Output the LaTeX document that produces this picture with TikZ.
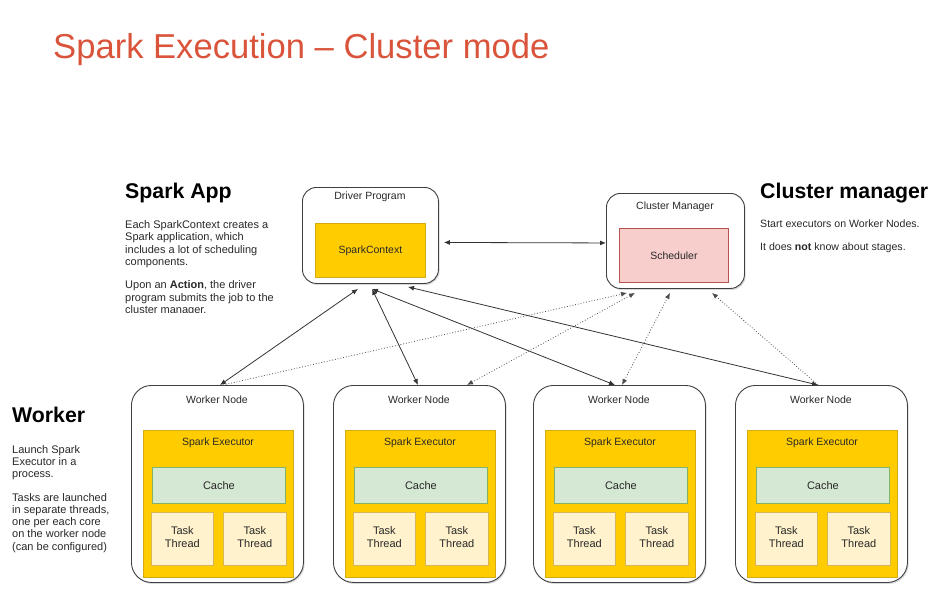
\documentclass[tikz,border=0pt]{standalone}
\usepackage{fontspec}
\setmainfont{Liberation Sans}
\usepackage{xcolor}
\usepackage{tikz}
\usetikzlibrary{arrows.meta,positioning,shadows,calc}
\definecolor{titlered}{RGB}{217,84,58}
\definecolor{darktext}{RGB}{40,40,40}
\definecolor{goldfill}{RGB}{255,204,0}
\definecolor{golddraw}{RGB}{214,170,20}
\definecolor{cachefill}{RGB}{213,232,212}
\definecolor{cachedraw}{RGB}{130,179,102}
\definecolor{taskfill}{RGB}{255,242,204}
\definecolor{taskdraw}{RGB}{214,182,86}
\definecolor{schedfill}{RGB}{248,206,204}
\definecolor{scheddraw}{RGB}{184,84,80}

\tikzset{
  outer_box/.style={draw=black!75, line width=0.9pt, fill=white, rounded corners=14pt,
    anchor=north west, inner sep=0pt,
    drop shadow={shadow xshift=1.2pt, shadow yshift=-1.5pt, opacity=0.3}},
  inner_box/.style={line width=0.8pt, anchor=north west, inner sep=0pt},
  box_text/.style={text=darktext, font=\fontsize{10.5}{12.5}\selectfont, align=center, inner sep=0pt},
  side_text/.style={text=darktext, font=\fontsize{11}{12.6}\selectfont, align=left, anchor=north west, inner sep=0pt},
  head_text/.style={text=black, font=\fontsize{21.3}{24}\selectfont\bfseries, anchor=base west, inner sep=0pt},
  link/.style={<->, >={Latex[length=6pt,width=5pt]}, draw=black!80, line width=0.8pt},
  dot_link/.style={>={Latex[length=6pt,width=5pt]}, draw=black!70, line width=0.8pt, dotted}
}

\begin{document}
\begin{tikzpicture}[x=1pt, y=-1pt]
  \useasboundingbox (0,0) rectangle (943,592);

  \node (title_text) [anchor=base west, inner sep=0pt, text=titlered, font=\fontsize{34.6}{40}\selectfont]
    at (53,58) {Spark Execution -- Cluster mode};

  % side notes
  \node (app_head) [head_text] at (125,198) {Spark App};
  \begin{scope}
    \clip (100,210) rectangle (300,312);
    \node (app_text) [side_text] at (125,220) {Each SparkContext creates a\\ Spark application, which\\
      includes a lot of scheduling\\ components.\\[10pt] Upon an \textbf{Action}, the driver\\
      program submits the job to the\\ cluster manager.};
  \end{scope}
  \node (cm_head) [head_text] at (760,198) {Cluster manager};
  \node (cm_text) [side_text, font=\fontsize{10.6}{12}\selectfont] at (760,220)
    {Start executors on Worker Nodes.\\[11pt] It does \textbf{not} know about stages.};
  \node (worker_head) [head_text] at (12,422) {Worker};
  \node (worker_text) [side_text, font=\fontsize{11}{12.2}\selectfont] at (12,445) {Launch Spark\\ Executor in a\\ process.\\[11.5pt]
    Tasks are launched\\ in separate threads,\\ one per each core\\ on the worker node\\ (can be configured)};

  % driver and cluster manager
  \node (driver_box) [outer_box, minimum width=136pt, minimum height=96pt] at (302,187) {};
  \node (driver_label) [box_text] at (370,197) {Driver Program};
  \node (spark_ctx) [inner_box, fill=goldfill, draw=golddraw, minimum width=110pt, minimum height=54pt] at (315,223) {};
  \node [box_text] at (spark_ctx.center) {SparkContext};

  \node (cm_box) [outer_box, minimum width=138pt, minimum height=95pt] at (606,193) {};
  \node (cm_label) [box_text] at (675,207) {Cluster Manager};
  \node (scheduler) [inner_box, fill=schedfill, draw=scheddraw, minimum width=109pt, minimum height=54pt] at (619,228) {};
  \node [box_text] at (scheduler.center) {Scheduler};

  % worker nodes
  \foreach \x [count=\i] in {131,333,533,735} {
    \node (worker_\i) [outer_box, rounded corners=20pt, minimum width=172pt, minimum height=197pt] at (\x,385) {};
    \node [box_text] at (\x+86,400) {Worker Node};
    \node (exec_\i) [inner_box, fill=goldfill, draw=golddraw, minimum width=150pt, minimum height=147pt] at (\x+12,430) {};
    \node [box_text] at (\x+87,443) {Spark Executor};
    \node (cache_\i) [inner_box, fill=cachefill, draw=cachedraw, minimum width=133pt, minimum height=36pt] at (\x+21,467) {};
    \node [box_text, font=\fontsize{11}{13}\selectfont] at (cache_\i.center) {Cache};
    \node (task_a_\i) [inner_box, fill=taskfill, draw=taskdraw, minimum width=62pt, minimum height=53pt] at (\x+20,512) {};
    \node [box_text, font=\fontsize{11}{13}\selectfont] at ([yshift=2pt]task_a_\i.center) {Task\\ Thread};
    \node (task_b_\i) [inner_box, fill=taskfill, draw=taskdraw, minimum width=63pt, minimum height=53pt] at (\x+92,512) {};
    \node [box_text, font=\fontsize{11}{13}\selectfont] at ([yshift=2pt]task_b_\i.center) {Task\\ Thread};
  }

  % connectors
  \draw [link] ([xshift=5pt, yshift=-7pt]driver_box.east) -- ([yshift=-2pt]cm_box.west);
  \draw [link] ([xshift=56pt, yshift=-5pt]driver_box.south west) -- ([xshift=89pt]worker_1.north west);
  \draw [link] ([xshift=70pt, yshift=-5pt]driver_box.south west) -- ([xshift=85pt]worker_2.north west);
  \draw [link] ([xshift=70pt, yshift=-5pt]driver_box.south west) -- ([xshift=82pt]worker_3.north west);
  \draw [link] ([xshift=106pt, yshift=-3pt]driver_box.south west) -- ([xshift=83pt]worker_4.north west);

  \draw [dot_link, ->] ([xshift=92pt]worker_1.north west) -- ([xshift=21pt, yshift=-4pt]cm_box.south west);
  \draw [dot_link, <->] ([xshift=134pt]worker_2.north west) -- ([xshift=29pt, yshift=-4pt]cm_box.south west);
  \draw [dot_link, <->] ([xshift=89pt]worker_3.north west) -- ([xshift=64pt, yshift=-4pt]cm_box.south west);
  \draw [dot_link, ->] ([xshift=83pt]worker_4.north west) -- ([xshift=106pt, yshift=-4pt]cm_box.south west);
\end{tikzpicture}
\end{document}
